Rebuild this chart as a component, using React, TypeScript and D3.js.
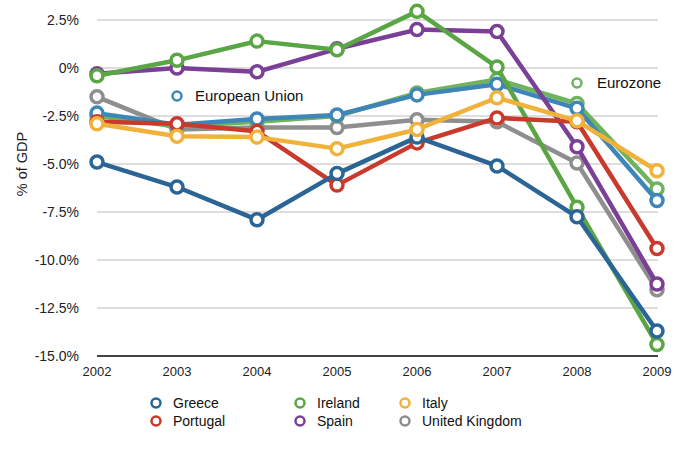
import React from "react";
import * as d3 from "d3";

const years = [2002, 2003, 2004, 2005, 2006, 2007, 2008, 2009];
const yTicks = [2.5, 0, -2.5, -5, -7.5, -10, -12.5, -15];
const yTickLabels = ["2.5%", "0%", "-2.5%", "-5.0%", "-7.5%", "-10.0%", "-12.5%", "-15.0%"];

const greece = [-4.9, -6.2, -7.9, -5.5, -3.6, -5.1, -7.75, -13.7];
const portugal = [-2.8, -2.9, -3.3, -6.1, -3.9, -2.6, -2.8, -9.4];
const ireland = [-0.4, 0.4, 1.4, 0.95, 2.95, 0.05, -7.25, -14.4];
const spain = [-0.3, 0.0, -0.2, 1.0, 2.0, 1.9, -4.1, -11.25];
const italy = [-2.9, -3.55, -3.6, -4.2, -3.2, -1.55, -2.75, -5.35];
const uk = [-1.5, -3.2, -3.1, -3.1, -2.7, -2.8, -4.95, -11.55];
const eu = [-2.35, -2.95, -2.65, -2.45, -1.4, -0.85, -2.1, -6.9];
const eurozone = [-2.5, -3.05, -2.8, -2.5, -1.3, -0.6, -1.85, -6.3];

const seriesNames = ["United Kingdom", "Eurozone", "European Union", "Spain", "Ireland", "Portugal", "Greece", "Italy"];
const seriesValues = [uk, eurozone, eu, spain, ireland, portugal, greece, italy];
const seriesColors = ["#8e8e8e", "#6fb35c", "#3f86b8", "#7a3f96", "#5aa644", "#c9392c", "#2b6595", "#f0b23a"];

const legendRows = [
  ["Greece", "Ireland", "Italy"],
  ["Portugal", "Spain", "United Kingdom"],
];

const FONT = "'Liberation Sans', Arial, Helvetica, sans-serif";

export default function App() {
  const W = 680, H = 450;
  const x = d3.scaleLinear().domain([2002, 2009]).range([97, 657]);
  const y = d3.scaleLinear().domain([2.5, -15]).range([20, 356]);
  const line = d3.line<number>().x((_, i) => x(years[i])).y((d) => y(d));
  const colorOf = (n: string) => seriesColors[seriesNames.indexOf(n)];
  const legendX = [156, 300, 405];
  const legendY = [403, 421];

  return (
    <svg width={W} height={H} style={{ position: "absolute", left: 0, top: 0, background: "#fff" }} fontFamily={FONT}>
      {yTicks.map((t, i) => (
        <g key={t}>
          {t !== -15 && <line x1={97} x2={658} y1={y(t)} y2={y(t)} stroke="#bdbdbd" strokeWidth={1} />}
          <text x={79} y={y(t)} dy="0.35em" textAnchor="end" fontSize={14} fill="#222">{yTickLabels[i]}</text>
        </g>
      ))}
      <line x1={97} x2={658} y1={y(-15)} y2={y(-15)} stroke="#444" strokeWidth={2} />
      {years.map((yr) => (
        <text key={yr} x={x(yr)} y={376} textAnchor="middle" fontSize={13} fill="#222">{yr}</text>
      ))}
      <text transform={`translate(27,${164}) rotate(-90)`} textAnchor="middle" fontSize={14.5} fill="#222">% of GDP</text>

      {seriesValues.map((vals, si) => (
        <g key={seriesNames[si]}>
          <path d={line(vals) || ""} fill="none" stroke={seriesColors[si]} strokeWidth={4.5} strokeLinejoin="round" />
          {vals.map((v, i) => (
            <circle key={i} cx={x(years[i])} cy={y(v)} r={6} fill="#fff" stroke={seriesColors[si]} strokeWidth={3.5} />
          ))}
        </g>
      ))}

      <circle cx={177} cy={96} r={4.5} fill="#fff" stroke={colorOf("European Union")} strokeWidth={2.5} />
      <text x={195} y={96} dy="0.35em" fontSize={15} fill="#111">European Union</text>
      <circle cx={577} cy={83} r={4.5} fill="#fff" stroke={colorOf("Eurozone")} strokeWidth={2.5} />
      <text x={597} y={83} dy="0.35em" fontSize={15} fill="#111">Eurozone</text>

      {legendRows.map((row, ri) =>
        row.map((name, ci) => (
          <g key={name}>
            <circle cx={legendX[ci]} cy={legendY[ri]} r={4.5} fill="#fff" stroke={colorOf(name)} strokeWidth={2.5} />
            <text x={legendX[ci] + 17} y={legendY[ri]} dy="0.35em" fontSize={14} fill="#111">{name}</text>
          </g>
        ))
      )}
    </svg>
  );
}
